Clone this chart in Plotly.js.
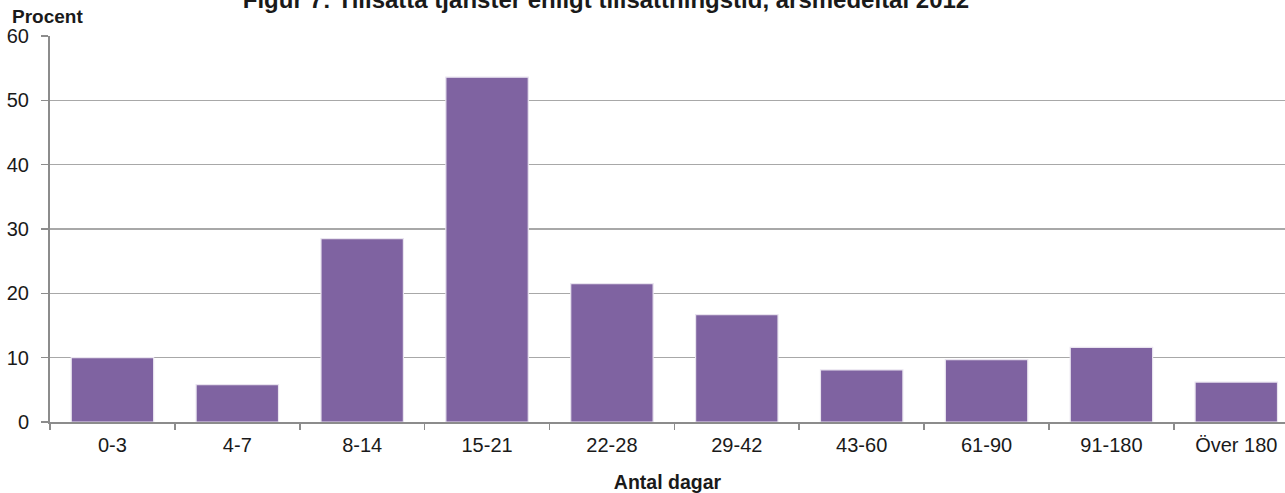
<!DOCTYPE html>
<html>
<head>
<meta charset="utf-8">
<script src="https://cdn.plot.ly/plotly-3.0.1.min.js"></script>
<style>html,body{margin:0;padding:0;background:#fff;} #chart{width:1285px;height:493px;}</style>
</head>
<body>
<div id="chart"></div>
<script>
const categories = ["0-3", "4-7", "8-14", "15-21", "22-28", "29-42", "43-60", "61-90", "91-180", "Över 180"];
const procent = [10.0, 5.8, 28.5, 53.6, 21.5, 16.7, 8.1, 9.7, 11.6, 6.2];
const yTicks = [0, 10, 20, 30, 40, 50, 60];

const trace = {
  type: "bar",
  x: categories,
  y: procent,
  marker: {color: "#7f63a1", line: {color: "#e9e4ef", width: 1.2}},
  hoverinfo: "x+y"
};

const layout = {
  width: 1285,
  height: 493,
  margin: {l: 50, r: 0, t: 36, b: 71},
  paper_bgcolor: "#ffffff",
  plot_bgcolor: "#ffffff",
  showlegend: false,
  font: {family: "Liberation Sans, Arial, sans-serif", color: "#1a1a1a", size: 20},
  title: {
    text: "<b>Figur 7: Tillsatta tjänster enligt tillsättningstid, årsmedeltal 2012</b>",
    font: {size: 24, color: "#1a1a1a"},
    x: 0.4716, xanchor: "center",
    y: 1.0, yanchor: "middle",
    pad: {t: 0, b: 0}
  },
  xaxis: {
    type: "category",
    range: [-0.5, 9.39],
    showline: true, linecolor: "#8c8c8c", linewidth: 2,
    ticks: "outside", tickson: "boundaries", ticklen: 6, tickcolor: "#8c8c8c", tickwidth: 1.5,
    showgrid: false,
    tickfont: {size: 20, color: "#1a1a1a"},
    ticklabelstandoff: 4,
    title: {text: "<b>Antal dagar</b>", font: {size: 19.5, color: "#1a1a1a"}, standoff: 24}
  },
  yaxis: {
    range: [0, 60],
    tickvals: yTicks,
    showline: true, linecolor: "#8c8c8c", linewidth: 2,
    ticks: "outside", ticklen: 7, tickcolor: "#8c8c8c", tickwidth: 1.5,
    showgrid: true, gridcolor: "#a8a8a8", gridwidth: 1.5,
    zeroline: false,
    ticklabelstandoff: 8,
    tickfont: {size: 20, color: "#1a1a1a"}
  },
  annotations: [{
    text: "<b>Procent</b>",
    xref: "paper", yref: "paper",
    x: -0.0324, y: 1.05,
    xanchor: "left", yanchor: "middle",
    showarrow: false,
    font: {size: 19, color: "#1a1a1a"}
  }],
  bargap: 0.34
};

Plotly.newPlot("chart", [trace], layout, {staticPlot: true, displayModeBar: false});
</script>
</body>
</html>
